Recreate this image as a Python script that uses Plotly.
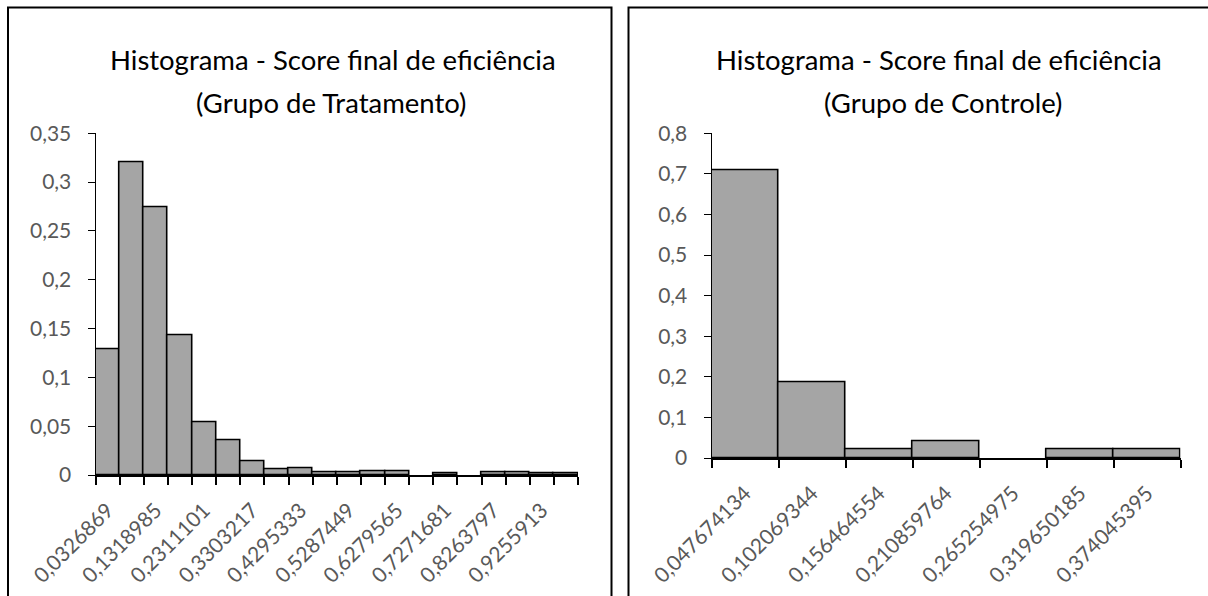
import plotly.graph_objects as go

W, H = 1208, 596

# ---------------- data ----------------
treat_title_1 = "Histograma - Score final de eficiência"
treat_title_2 = "(Grupo de Tratamento)"
ctrl_title_1 = "Histograma - Score final de eficiência"
ctrl_title_2 = "(Grupo de Controle)"

treat_labels = ["0,0326869", "0,1318985", "0,2311101", "0,3303217", "0,4295333",
                "0,5287449", "0,6279565", "0,7271681", "0,8263797", "0,9255913"]
treat_freq = [0.129, 0.320, 0.274, 0.143, 0.0535, 0.036, 0.0143, 0.0057, 0.0071, 0.0028,
              0.0028, 0.0043, 0.0043, 0.0, 0.0014, 0.0, 0.0024, 0.0024, 0.0014, 0.0014]

ctrl_labels = ["0,047674134", "0,102069344", "0,156464554", "0,210859764",
               "0,265254975", "0,319650185", "0,374045395"]
ctrl_freq = [0.708, 0.1875, 0.0208, 0.0417, 0.0, 0.0208, 0.0208]

# ---------------- style ----------------
FONT = "Lato"
TICK_COLOR = "#595959"
BAR_COLOR = "#A5A5A5"
TICK_SIZE = 21
TITLE_SIZE = 27.5
BAR_LINE = 1.6


def px_x(p):
    return p / W


def px_y(p):
    return 1 - p / H


n_t = len(treat_freq)
n_c = len(ctrl_freq)
t_pos = list(range(n_t))
c_pos = list(range(n_c))

fig = go.Figure()
fig.add_trace(go.Bar(x=t_pos, y=treat_freq, width=1, xaxis="x", yaxis="y",
                     marker=dict(color=BAR_COLOR,
                                 line=dict(color="black",
                                           width=[BAR_LINE if v > 0 else 0 for v in treat_freq])),
                     showlegend=False, hoverinfo="skip"))
fig.add_trace(go.Bar(x=c_pos, y=ctrl_freq, width=1, xaxis="x2", yaxis="y2",
                     marker=dict(color=BAR_COLOR,
                                 line=dict(color="black",
                                           width=[BAR_LINE if v > 0 else 0 for v in ctrl_freq])),
                     showlegend=False, hoverinfo="skip"))

tickfont = dict(family=FONT, size=TICK_SIZE, color=TICK_COLOR)

common_x = dict(tickmode="array", ticks="", tickangle=-45, showline=True,
                linecolor="black", linewidth=1.5, showgrid=False, zeroline=False,
                tickfont=tickfont, fixedrange=True, automargin=False,
                ticklabelstandoff=13, layer="above traces")
common_y = dict(ticks="outside", ticklen=7, tickcolor="black", tickwidth=1,
                showline=True, linecolor="black", linewidth=1, showgrid=False,
                zeroline=False, tickfont=tickfont, tick0=0, ticklabelstandoff=12,
                automargin=False, fixedrange=True)
# inner half of the crossing tick marks on the value axes
inner_y = dict(ticks="inside", ticklen=7, tickcolor="black", tickwidth=1,
               showticklabels=False, showline=False, showgrid=False, zeroline=False,
               tick0=0, automargin=False, fixedrange=True, side="left")

fig.update_layout(
    width=W, height=H,
    margin=dict(l=0, r=0, t=0, b=0, pad=0, autoexpand=False),
    paper_bgcolor="white", plot_bgcolor="rgba(0,0,0,0)",
    separators=",.",
    bargap=0,
    font=dict(family=FONT, color=TICK_COLOR),
    xaxis=dict(domain=[px_x(95.5), px_x(578)], range=[-0.5, n_t - 0.5],
               tickvals=t_pos[::2], ticktext=treat_labels,
               minor=dict(ticks="outside", tickmode="array",
                          tickvals=[p - 0.5 for p in t_pos] + [n_t - 0.5],
                          ticklen=8, tickcolor="black", tickwidth=1.5, showgrid=False),
               anchor="y", **common_x),
    yaxis=dict(domain=[px_y(475), px_y(133.3)], range=[0, 0.35], dtick=0.05,
               anchor="x", **common_y),
    yaxis3=dict(overlaying="y", matches="y", anchor="x", dtick=0.05, **inner_y),
    xaxis2=dict(domain=[px_x(711.5), px_x(1180.5)], range=[-0.5, n_c - 0.5],
                tickvals=c_pos, ticktext=ctrl_labels,
                minor=dict(ticks="outside", tickmode="array",
                           tickvals=[p - 0.5 for p in c_pos] + [n_c - 0.5],
                           ticklen=8, tickcolor="black", tickwidth=1.5, showgrid=False),
                anchor="y2", **common_x),
    yaxis2=dict(domain=[px_y(458), px_y(133.3)], range=[0, 0.8], dtick=0.1,
                anchor="x2", **common_y),
    yaxis4=dict(overlaying="y2", matches="y2", anchor="x2", dtick=0.1, **inner_y),
)

# chart frames
fig.add_shape(type="rect", xref="paper", yref="paper",
              x0=px_x(8), x1=px_x(611.5), y0=px_y(610), y1=px_y(7.5),
              line=dict(color="black", width=2), fillcolor="rgba(0,0,0,0)", layer="below")
fig.add_shape(type="rect", xref="paper", yref="paper",
              x0=px_x(628.5), x1=px_x(1220), y0=px_y(610), y1=px_y(7.5),
              line=dict(color="black", width=2), fillcolor="rgba(0,0,0,0)", layer="below")

title_font = dict(family=FONT, size=TITLE_SIZE, color="black")
for txt, cx, cy in [(treat_title_1, 333, 60), (treat_title_2, 331, 103),
                    (ctrl_title_1, 939, 60), (ctrl_title_2, 943, 103)]:
    fig.add_annotation(text=txt, xref="paper", yref="paper", x=px_x(cx), y=px_y(cy),
                       xanchor="center", yanchor="middle", showarrow=False, font=title_font)

fig.write_html("out.html", post_script="document.body.style.margin='0';",
               config={"displayModeBar": False})
